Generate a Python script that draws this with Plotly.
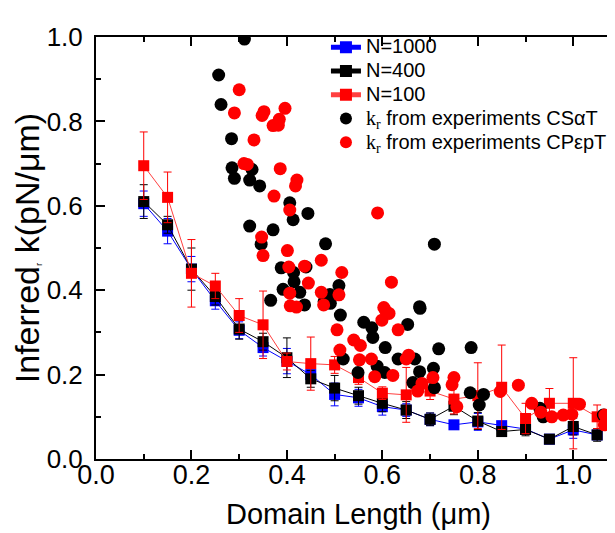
import plotly.graph_objects as go

# ---------------- data ----------------
x_sim = [0.10, 0.15, 0.20, 0.25, 0.30, 0.35, 0.40, 0.45, 0.50, 0.55,
         0.60, 0.65, 0.70, 0.75, 0.80, 0.85, 0.90, 0.95, 1.00, 1.05]

k_n1000 = [0.605, 0.540, 0.450, 0.375, 0.305, 0.264, 0.232, 0.200, 0.153, 0.145,
           0.124, 0.116, 0.094, 0.081, 0.088, 0.079, 0.071, 0.047, 0.069, 0.057]
e_n1000 = [0.030, 0.030, 0.030, 0.020, 0.020, 0.020, 0.030, 0.020, 0.027, 0.020,
           0.020, 0.015, 0.015, 0.010, 0.020, 0.010, 0.010, 0.005, 0.020, 0.010]

k_n400 = [0.610, 0.555, 0.450, 0.385, 0.308, 0.278, 0.240, 0.190, 0.168, 0.150,
          0.132, 0.116, 0.094, 0.125, 0.090, 0.065, 0.070, 0.047, 0.077, 0.057]
e_n400 = [0.040, 0.020, 0.050, 0.020, 0.024, 0.020, 0.047, 0.020, 0.030, 0.020,
          0.020, 0.020, 0.015, 0.020, 0.020, 0.010, 0.015, 0.005, 0.020, 0.015]

k_n100 = [0.695, 0.620, 0.440, 0.410, 0.340, 0.318, 0.231, 0.226, 0.223, 0.193,
          0.156, 0.152, 0.161, 0.142, 0.150, 0.170, 0.096, 0.132, 0.132, 0.100]
e_n100 = [0.080, 0.060, 0.080, 0.030, 0.040, 0.080, 0.020, 0.063, 0.020, 0.016,
          0.015, 0.065, 0.020, 0.035, 0.078, 0.100, 0.036, 0.035, 0.108, 0.028]

# experiments CSaT (black dots)
x_csat = [0.311, 0.257, 0.262, 0.284, 0.285, 0.290, 0.327, 0.322, 0.343, 0.406,
          0.413, 0.444, 0.322, 0.371, 0.346, 0.481, 0.709, 0.388, 0.414, 0.440,
          0.415, 0.392, 0.427, 0.509, 0.366, 0.437, 0.478, 0.491, 0.678, 0.512,
          0.561, 0.578, 0.580, 0.653, 0.606, 0.718, 0.786, 0.518, 0.633, 0.668,
          0.589, 0.605, 0.549, 0.678, 0.707, 0.664, 0.709, 0.784, 0.812, 0.803,
          0.930, 0.937, 1.098, 1.063, 0.679, 0.490]
y_csat = [0.995, 0.910, 0.840, 0.759, 0.690, 0.665, 0.686, 0.661, 0.647, 0.607,
          0.567, 0.582, 0.552, 0.543, 0.509, 0.510, 0.509, 0.453, 0.442, 0.455,
          0.420, 0.402, 0.395, 0.411, 0.376, 0.365, 0.373, 0.369, 0.361, 0.341,
          0.324, 0.311, 0.288, 0.319, 0.264, 0.261, 0.264, 0.237, 0.237, 0.237,
          0.220, 0.205, 0.205, 0.207, 0.215, 0.181, 0.169, 0.157, 0.153, 0.128,
          0.120, 0.100, 0.077, 0.104, 0.357, 0.390]

# experiments CPepT (red dots)
x_cpept = [0.300, 0.290, 0.310, 0.352, 0.348, 0.396, 0.384, 0.371, 0.382, 0.331,
           0.317, 0.386, 0.421, 0.418, 0.373, 0.406, 0.590, 0.347, 0.350, 0.401,
           0.472, 0.404, 0.437, 0.515, 0.445, 0.619, 0.406, 0.472, 0.509, 0.477,
           0.407, 0.420, 0.603, 0.505, 0.511, 0.606, 0.614, 0.599, 0.633, 0.540,
           0.554, 0.577, 0.552, 0.655, 0.650, 0.584, 0.622, 0.683, 0.706, 0.674,
           0.750, 0.746, 0.756, 0.885, 0.847, 0.913, 0.932, 0.955, 0.979, 0.997,
           1.013, 1.066, 1.065]
y_cpept = [0.875, 0.820, 0.700, 0.823, 0.814, 0.831, 0.805, 0.790, 0.791, 0.756,
           0.698, 0.688, 0.661, 0.647, 0.623, 0.590, 0.583, 0.526, 0.482, 0.494,
           0.471, 0.455, 0.457, 0.442, 0.417, 0.419, 0.393, 0.395, 0.389, 0.365,
           0.363, 0.360, 0.359, 0.306, 0.258, 0.353, 0.345, 0.329, 0.306, 0.282,
           0.269, 0.237, 0.235, 0.246, 0.237, 0.195, 0.198, 0.179, 0.193, 0.161,
           0.193, 0.176, 0.124, 0.175, 0.160, 0.132, 0.111, 0.100, 0.104, 0.106,
           0.130, 0.104, 0.081]

# ---------------- figure ----------------
FONT = "Liberation Sans, Arial, sans-serif"
SERIF = "Liberation Serif"

fig = go.Figure()

def sim_trace(y, e, name, color, linecolor):
    return go.Scatter(
        x=x_sim, y=y, name=f"<span style=\"font-size:20px\">{name}</span>",
        mode="lines+markers",
        line=dict(color=linecolor, width=1),
        marker=dict(symbol="square", size=11, color=color, line=dict(width=0)),
        error_y=dict(type="data", array=e, visible=True, color=color,
                     thickness=1, width=4),
    )

fig.add_trace(sim_trace(k_n1000, e_n1000, "N=1000", "#0000ff", "#0000ff"))
fig.add_trace(sim_trace(k_n400, e_n400, "N=400", "#000000", "#000000"))
fig.add_trace(sim_trace(k_n100, e_n100, "N=100", "#ff0000", "#ff4040"))

fig.add_trace(go.Scatter(
    x=x_csat, y=y_csat, mode="markers",
    name=(f"<span style=\"font-size:20px\"><span style=\"font-family:{SERIF}\">k<sub>r</sub></span>"
          " from experiments CSαT</span>"),
    marker=dict(symbol="circle", size=13, color="#000000", line=dict(width=0)),
))
fig.add_trace(go.Scatter(
    x=x_cpept, y=y_cpept, mode="markers",
    name=(f"<span style=\"font-size:20px\"><span style=\"font-family:{SERIF}\">k<sub>r</sub></span>"
          " from experiments CPεpT</span>"),
    marker=dict(symbol="circle", size=13, color="#ff0000", line=dict(width=0)),
))

axis_common = dict(
    showline=True, linecolor="black", linewidth=2, mirror="ticks",
    ticks="inside", ticklen=9, tickwidth=1.5, tickcolor="black",
    showgrid=False, zeroline=False,
    tickformat=".1f",
)

fig.update_xaxes(
    range=[0, 1.1], dtick=0.2, tick0=0,
    minor=dict(dtick=0.1, ticks="inside", ticklen=5, tickcolor="black", tickwidth=1.5),
    tickfont=dict(family=FONT, size=27, color="black"),
    ticklabelstandoff=-9,
    title=dict(text="Domain Length (μm)", font=dict(family=FONT, size=29, color="black"),
               standoff=14),
    **axis_common,
)
fig.update_yaxes(
    range=[0, 1.0], dtick=0.2, tick0=0,
    minor=dict(dtick=0.1, ticks="inside", ticklen=5, tickcolor="black", tickwidth=1.5),
    tickfont=dict(family=FONT, size=26, color="black"),
    ticklabelstandoff=6,
    title=dict(text="Inferred<span style=\"font-size:14px\"><sub>r</sub></span> k(pN/μm)",
               font=dict(family=FONT, size=34, color="black"), standoff=0),
    **axis_common,
)

fig.update_layout(
    width=615, height=533,
    margin=dict(l=88, r=2, t=29, b=82, autoexpand=False),
    paper_bgcolor="white", plot_bgcolor="white",
    font=dict(family=FONT, color="black"),
    showlegend=True,
    legend=dict(
        x=0.438, y=1.016, xanchor="left", yanchor="top",
        bgcolor="rgba(0,0,0,0)", borderwidth=0,
        font=dict(family=FONT, size=16, color="black"),
        tracegroupgap=0, itemsizing="constant",
    ),
)

fig.write_html("out.html")
